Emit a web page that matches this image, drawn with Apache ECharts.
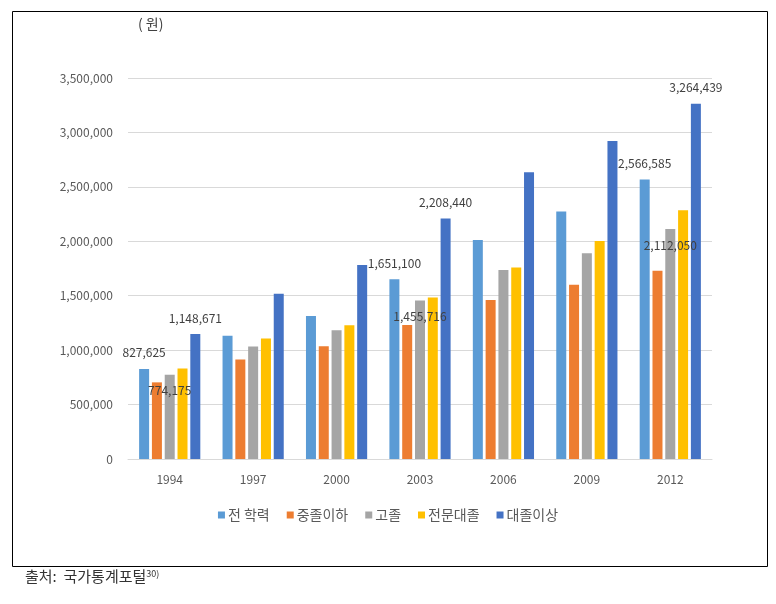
<!DOCTYPE html>
<html><head><meta charset="utf-8">
<script src="https://cdn.jsdelivr.net/npm/echarts@6/dist/echarts.min.js"></script>
<style>html,body{margin:0;padding:0;background:#fff}#c{width:776px;height:604px}</style>
</head><body><div id="c"></div>
<script>
const years = ['1994','1997','2000','2003','2006','2009','2012'];
const seriesNames = ['전 학력','중졸이하','고졸','전문대졸','대졸이상'];
const allEdu   = [827625, 1133000, 1314000, 1651100, 2011000, 2273000, 2566585];
const middle   = [704000, 914000, 1035000, 1231000, 1460000, 1600000, 1730000];
const high     = [774175, 1033000, 1182000, 1455716, 1736000, 1889000, 2112050];
const college  = [832000, 1106000, 1228000, 1484000, 1760000, 2002000, 2285000];
const univ     = [1148671, 1517000, 1782000, 2208440, 2635000, 2922000, 3264439];
const yTicks = [0, 500000, 1000000, 1500000, 2000000, 2500000, 3000000, 3500000];
// which data indices carry a value label per series, and where
const labeledIdx = [[0,3,6],[],[0,3,6],[],[0,3,6]];
const labelPos = ['top','top','insideTop','top','top'];

const colors = ['#5B9BD5','#ED7D31','#A5A5A5','#FFC000','#4472C4'];
const values = [allEdu, middle, high, college, univ];
const font = "'Noto Sans CJK KR', 'Noto Sans', sans-serif";
const fmt = v => v.toLocaleString('en-US');

const series = values.map((arr, si) => ({
  name: seriesNames[si],
  type: 'bar',
  barWidth: 10,
  barGap: '28%',
  itemStyle: {color: colors[si]},
  data: arr.map((v, i) => {
    const d = {value: v};
    if (labeledIdx[si].includes(i)) {
      d.label = {show: true, position: labelPos[si], distance: 10,
        formatter: p => fmt(p.value), color: '#404040', fontSize: 12, fontFamily: font};
    }
    return d;
  })
}));

const chart = echarts.init(document.getElementById('c'), null, {renderer: 'canvas'});
chart.setOption({
  animation: false,
  backgroundColor: '#fff',
  grid: {left: 128, right: 64, top: 78, bottom: 145, containLabel: false},
  xAxis: {
    type: 'category', data: years,
    axisLine: {lineStyle: {color: '#D9D9D9'}},
    axisTick: {show: false},
    axisLabel: {color: '#595959', fontSize: 12, fontFamily: font, margin: 14}
  },
  yAxis: {
    type: 'value', min: 0, max: yTicks[yTicks.length-1], interval: 500000,
    axisLine: {show: false}, axisTick: {show: false},
    splitLine: {lineStyle: {color: '#D9D9D9'}},
    axisLabel: {color: '#595959', fontSize: 12, fontFamily: font, margin: 15,
      formatter: v => fmt(v)}
  },
  legend: {
    data: seriesNames, bottom: 77, left: 'center',
    icon: 'rect', itemWidth: 7, itemHeight: 7, itemGap: 17,
    textStyle: {color: '#595959', fontSize: 14, fontFamily: font, padding: [0,0,0,-2]}
  },
  graphic: [
    {type: 'rect', shape: {x: 12.5, y: 11.5, width: 755, height: 555},
     style: {fill: 'none', stroke: '#000', lineWidth: 1}, silent: true},
    {type: 'text', left: 138, top: 17,
     style: {text: '( 원)', fill: '#404040', font: "14px " + font}},
    {type: 'text', left: 25, top: 569,
     style: {text: '{m|출처:  국가통계포털}{s|30)}', fill: '#333',
       rich: {m: {fontSize: 15, fontFamily: font, fill: '#333', verticalAlign: 'bottom'},
              s: {fontSize: 9, fontFamily: font, fill: '#333', verticalAlign: 'top', padding: [0,0,6,0]}}}}
  ],
  series: series
});
</script></body></html>
